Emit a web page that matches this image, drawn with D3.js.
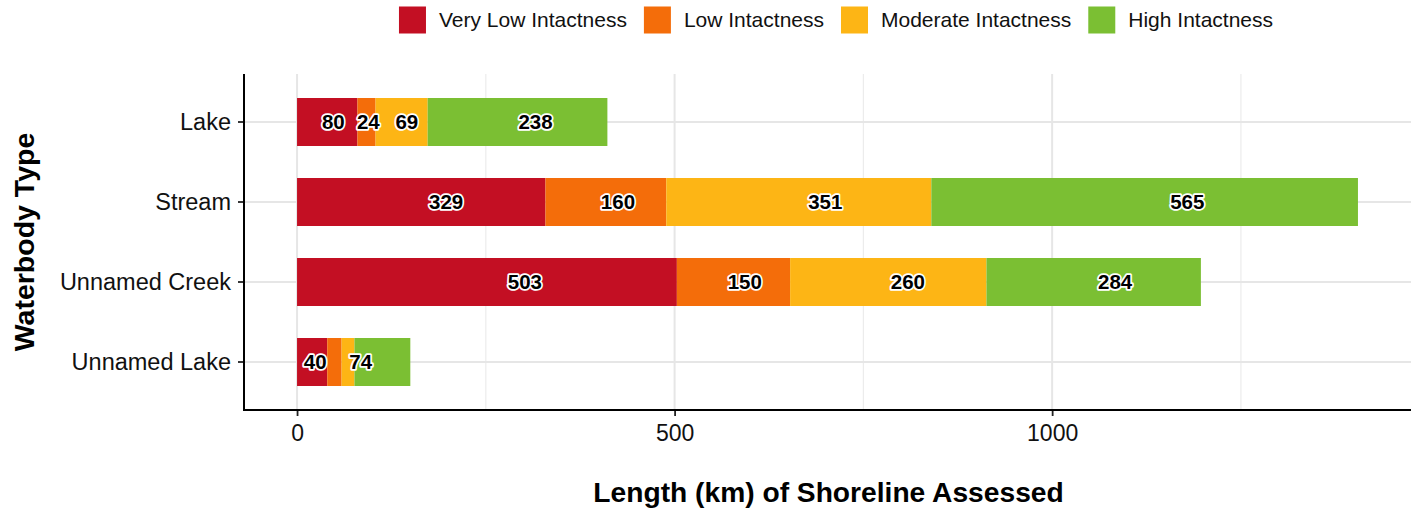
<!DOCTYPE html>
<html>
<head>
<meta charset="utf-8">
<script src="https://cdn.jsdelivr.net/npm/d3@7"></script>
<style>
  html, body { margin: 0; padding: 0; background: #ffffff; }
  svg { display: block; }
  text { font-family: "Liberation Sans", Arial, Helvetica, sans-serif; }
</style>
</head>
<body>
<svg id="chart" width="1421" height="510"></svg>
<script>
// ---- data ----
const categories = ["Lake", "Stream", "Unnamed Creek", "Unnamed Lake"];
const seriesNames = ["Very Low Intactness", "Low Intactness", "Moderate Intactness", "High Intactness"];
const veryLow  = [80, 329, 503, 40];
const low      = [24, 160, 150, 19];
const moderate = [69, 351, 260, 17];
const high     = [238, 565, 284, 74];
const xTicks = [0, 500, 1000];
const xMinorTicks = [250, 750, 1250];
const seriesColors = ["#C30F23", "#F46D0A", "#FDB515", "#7BBF33"];
const xTitle = "Length (km) of Shoreline Assessed";
const yTitle = "Waterbody Type";

// ---- layout ----
const W = 1421, H = 510;
const panel = { left: 244, right: 1411, top: 74, bottom: 410 };
const svg = d3.select("#chart");

const seriesValues = [veryLow, low, moderate, high];
const rows = categories.map((c, i) => {
  const r = { category: c };
  seriesNames.forEach((s, j) => r[s] = seriesValues[j][i]);
  return r;
});
const stacked = d3.stack().keys(seriesNames)(rows);
const maxTotal = d3.max(rows, r => d3.sum(seriesNames, s => r[s]));

const x = d3.scaleLinear()
  .domain([-0.05 * maxTotal, maxTotal * 1.05])
  .range([panel.left, panel.right]);
const y = d3.scaleBand()
  .domain(categories)
  .range([panel.top, panel.bottom])
  .paddingInner(0.4)
  .paddingOuter(0.3);
const color = d3.scaleOrdinal().domain(seriesNames).range(seriesColors);

// grid
const grid = svg.append("g");
grid.selectAll("line.minor").data(xMinorTicks).join("line")
  .attr("x1", d => x(d)).attr("x2", d => x(d))
  .attr("y1", panel.top).attr("y2", panel.bottom)
  .attr("stroke", "#ececec").attr("stroke-width", 1.2);
grid.selectAll("line.majorx").data(xTicks).join("line")
  .attr("x1", d => x(d)).attr("x2", d => x(d))
  .attr("y1", panel.top).attr("y2", panel.bottom)
  .attr("stroke", "#e6e6e6").attr("stroke-width", 2);
grid.selectAll("line.majory").data(categories).join("line")
  .attr("x1", panel.left).attr("x2", panel.right)
  .attr("y1", d => y(d) + y.bandwidth() / 2).attr("y2", d => y(d) + y.bandwidth() / 2)
  .attr("stroke", "#e6e6e6").attr("stroke-width", 2);

// bars
svg.append("g").selectAll("g").data(stacked).join("g")
  .attr("fill", d => color(d.key))
  .selectAll("rect").data(d => d).join("rect")
  .attr("x", d => x(d[0]))
  .attr("width", d => x(d[1]) - x(d[0]))
  .attr("y", d => y(d.data.category))
  .attr("height", y.bandwidth());

// bar labels: values >= 20 shown, stacked among shown values, placed at 60% of segment
const labelData = [];
categories.forEach((c, i) => {
  let cum = 0;
  seriesValues.forEach(vals => {
    const v = vals[i];
    if (v >= 20) {
      labelData.push({ category: c, value: v, pos: cum + 0.6 * v });
      cum += v;
    }
  });
});
svg.append("g").selectAll("text").data(labelData).join("text")
  .attr("x", d => x(d.pos))
  .attr("y", d => y(d.category) + y.bandwidth() / 2)
  .attr("dy", "0.36em")
  .attr("text-anchor", "middle")
  .attr("font-size", 20.5)
  .attr("font-weight", "bold")
  .attr("fill", "#000")
  .attr("stroke", "#fff")
  .attr("stroke-width", 3.5)
  .attr("stroke-linejoin", "round")
  .attr("paint-order", "stroke")
  .text(d => d.value);

// axes
const xAxis = d3.axisBottom(x).tickValues(xTicks).tickSize(6).tickPadding(9).tickFormat(d3.format("d"));
const gx = svg.append("g").attr("transform", `translate(0,${panel.bottom})`).call(xAxis);
gx.select(".domain").remove();
gx.selectAll(".tick line").attr("stroke", "#222").attr("stroke-width", 1.8);
gx.selectAll(".tick text").attr("font-size", 23).attr("fill", "#111")
  .attr("font-family", "Liberation Sans, Arial, sans-serif");

const yAxis = d3.axisLeft(y).tickSize(6).tickPadding(7);
const gy = svg.append("g").attr("transform", `translate(${panel.left},0)`).call(yAxis);
gy.select(".domain").remove();
gy.selectAll(".tick line").attr("stroke", "#222").attr("stroke-width", 1.8);
gy.selectAll(".tick text").attr("font-size", 23.5).attr("fill", "#111")
  .attr("font-family", "Liberation Sans, Arial, sans-serif");

svg.append("line").attr("x1", panel.left).attr("x2", panel.left)
  .attr("y1", panel.top).attr("y2", panel.bottom + 1)
  .attr("stroke", "#000").attr("stroke-width", 2);
svg.append("line").attr("x1", panel.left - 1).attr("x2", panel.right)
  .attr("y1", panel.bottom).attr("y2", panel.bottom)
  .attr("stroke", "#000").attr("stroke-width", 2);

// axis titles
svg.append("text")
  .attr("x", (panel.left + panel.right) / 2 + 1).attr("y", 492)
  .attr("dy", "0.35em").attr("text-anchor", "middle")
  .attr("font-size", 28.2).attr("font-weight", "bold").attr("fill", "#000")
  .text(xTitle);
svg.append("text")
  .attr("transform", `translate(24,${(panel.top + panel.bottom) / 2}) rotate(-90)`)
  .attr("dy", "0.35em").attr("text-anchor", "middle")
  .attr("font-size", 28.5).attr("font-weight", "bold").attr("fill", "#000")
  .text(yTitle);

// legend
const legend = svg.append("g");
const keySize = 27, keyGap = 13, itemGap = 17, legendCy = 20;
let lx = 0;
seriesNames.forEach(name => {
  const g = legend.append("g");
  g.append("rect").attr("x", 0).attr("y", legendCy - keySize / 2)
    .attr("width", keySize).attr("height", keySize).attr("fill", color(name));
  const t = g.append("text").attr("x", keySize + keyGap).attr("y", legendCy)
    .attr("dy", "0.35em").attr("font-size", 21).attr("fill", "#111").text(name);
  const w = keySize + keyGap + t.node().getComputedTextLength();
  g.attr("transform", `translate(${lx},0)`);
  lx += w + itemGap;
});
const legendWidth = lx - itemGap;
legend.attr("transform", `translate(${836 - legendWidth / 2},0)`);
</script>
</body>
</html>
